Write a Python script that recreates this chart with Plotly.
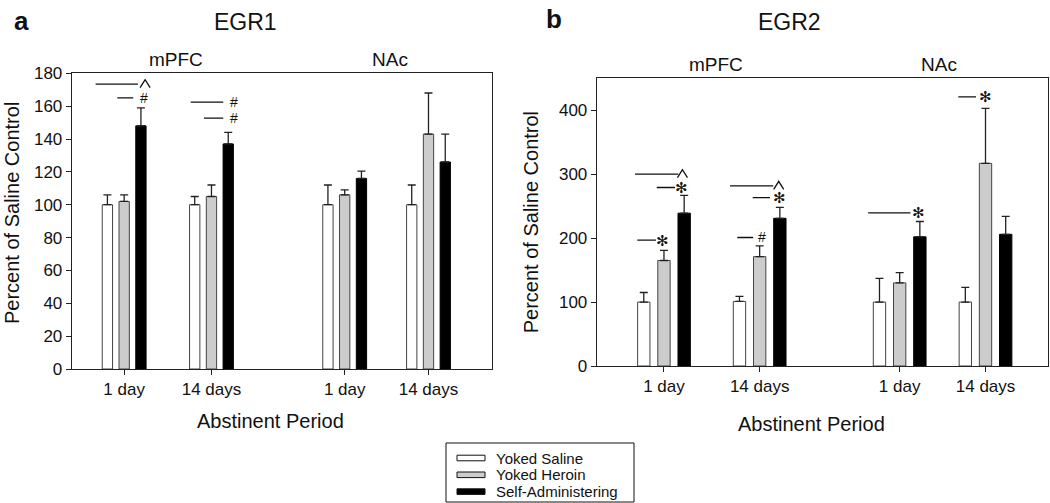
import plotly.graph_objects as go

# ---------------- data ----------------
groups = ["Yoked Saline", "Yoked Heroin", "Self-Administering"]
tick_labels = ["1 day", "14 days", "1 day", "14 days"]
regions = ["mPFC", "NAc"]

# EGR1 (panel a): order mPFC 1 day, mPFC 14 days, NAc 1 day, NAc 14 days
egr1_saline = [100, 100, 100, 100]
egr1_saline_err = [6, 5, 12, 12]
egr1_heroin = [102, 105, 106, 143]
egr1_heroin_err = [4, 7, 3, 25]
egr1_self = [148, 137, 116, 126]
egr1_self_err = [11, 7, 4.5, 17]

# EGR2 (panel b)
egr2_saline = [100, 101, 100, 100]
egr2_saline_err = [15, 8, 37, 23]
egr2_heroin = [165, 171, 130, 317]
egr2_heroin_err = [16, 17, 16, 86]
egr2_self = [239, 231, 202, 206]
egr2_self_err = [28, 17, 24, 28]

# significance: (group index, line start offset, line end offset, level, symbol, symbol offset)
sig_a = [
    (0, -0.327, 0.158, 173.4, "^", 0.240),
    (0, -0.079, 0.104, 165.0, "#", 0.224),
    (1, -0.238, 0.135, 162.4, "#", 0.258),
    (1, -0.086, 0.135, 152.7, "#", 0.258),
]
sig_b = [
    (0, -0.303, 0.149, 300.0, "^", 0.193),
    (0, -0.076, 0.115, 279.2, "*", 0.185),
    (0, -0.279, -0.084, 196.9, "*", -0.013),
    (1, -0.310, 0.142, 281.8, "^", 0.199),
    (1, -0.073, 0.108, 263.5, "*", 0.204),
    (1, -0.234, -0.068, 201.0, "#", 0.024),
    (2, -0.329, 0.113, 239.4, "*", 0.200),
    (3, -0.284, -0.099, 420.8, "*", 0.003),
]

# ---------------- layout config ----------------
W, H = 1050, 503
FONT = "Liberation Sans, Arial, Helvetica, sans-serif"
pos_a = [1, 2, 3.526, 4.486]
pos_b = [1, 2, 3.463, 4.36]
fills = ["#ffffff", "#cccccc", "#000000"]
outlines = ["#444444", "#444444", "#000000"]
INK = "#111111"


def px(x, y):
    return x / W, 1 - y / H


fig = go.Figure()


def add_panel(vals, errs, pos, off, bw, xa, ya):
    for k in range(3):
        fig.add_trace(go.Bar(
            x=[p + (k - 1) * off for p in pos],
            y=vals[k],
            width=bw,
            name=groups[k],
            showlegend=False,
            hoverinfo="skip",
            marker=dict(color=fills[k], line=dict(color=outlines[k], width=1)),
            error_y=dict(type="data", array=errs[k], arrayminus=[0] * len(pos),
                         symmetric=False, color="#222222", thickness=1.3, width=4),
            xaxis=xa, yaxis=ya,
        ))


add_panel([egr1_saline, egr1_heroin, egr1_self],
          [egr1_saline_err, egr1_heroin_err, egr1_self_err],
          pos_a, 0.192, 0.118, "x", "y")
add_panel([egr2_saline, egr2_heroin, egr2_self],
          [egr2_saline_err, egr2_heroin_err, egr2_self_err],
          pos_b, 0.211, 0.129, "x2", "y2")

axis_common = dict(showline=True, linecolor="#222222", linewidth=1, mirror=True,
                   ticks="outside", ticklen=5, tickwidth=1, tickcolor="#222222",
                   showgrid=False, zeroline=False, automargin=False,
                   tickfont=dict(family=FONT, size=17, color=INK))

shapes = []
annotations = []


def add_sig(sig, pos, xr, yr):
    for g, x0, x1, lvl, sym, toff in sig:
        shapes.append(dict(type="line", xref=xr, yref=yr, x0=pos[g] + x0, x1=pos[g] + x1,
                           y0=lvl, y1=lvl, line=dict(color=INK, width=1.3)))
        if sym == "^":
            # caret marker drawn as a small inverted V centred on the bar level
            shapes.append(dict(type="path", xref=xr, yref=yr, xsizemode="pixel",
                               ysizemode="pixel", xanchor=pos[g] + toff, yanchor=lvl,
                               path="M -5,-3.5 L 0,4.5 L 5,-3.5",
                               line=dict(color=INK, width=1.3)))
            continue
        txt, size = ("✻", 15) if sym == "*" else ("#", 14)
        annotations.append(dict(x=pos[g] + toff, y=lvl, xref=xr, yref=yr, text=txt,
                                showarrow=False, xanchor="center", yanchor="middle",
                                borderpad=0, font=dict(family=FONT, size=size, color=INK)))


add_sig(sig_a, pos_a, "x", "y")
add_sig(sig_b, pos_b, "x2", "y2")


def add_text(x, y, text, size, bold=False, angle=0, xanchor="center"):
    xx, yy = px(x, y)
    annotations.append(dict(x=xx, y=yy, xref="paper", yref="paper",
                            text=f"<b>{text}</b>" if bold else text,
                            showarrow=False, xanchor=xanchor, yanchor="middle", textangle=angle,
                            borderpad=0, font=dict(family=FONT, size=size, color=INK)))


add_text(21, 21, "a", 26, bold=True)
add_text(554, 19, "b", 26, bold=True)
add_text(245, 22, "EGR1", 23)
add_text(789, 22, "EGR2", 23)
add_text(176, 59, regions[0], 19)
add_text(389.5, 59, regions[1], 19)
add_text(715.6, 65, regions[0], 19)
add_text(939, 65, regions[1], 19)
add_text(270, 421, "Abstinent Period", 20)
add_text(811.6, 424, "Abstinent Period", 20)
add_text(12, 213, "Percent of Saline Control", 20, angle=-90)
add_text(530.6, 222.7, "Percent of Saline Control", 20, angle=-90)

# legend box
lx0, ly0 = px(446, 443)
lx1, ly1 = px(634, 502)
shapes.append(dict(type="rect", xref="paper", yref="paper", x0=lx0, x1=lx1, y0=ly1, y1=ly0,
                   line=dict(color=INK, width=1), fillcolor="rgba(0,0,0,0)"))
row_y = [458, 474.8, 491.6]
for k in range(3):
    sx0, sy0 = px(457, row_y[k] - 2.8)
    sx1, sy1 = px(485, row_y[k] + 2.8)
    shapes.append(dict(type="rect", xref="paper", yref="paper", x0=sx0, x1=sx1, y0=sy1, y1=sy0,
                       line=dict(color=INK, width=1), fillcolor=fills[k]))
    add_text(495, row_y[k], groups[k], 15, xanchor="left")

fig.update_layout(
    template="none",
    width=W, height=H, autosize=False,
    margin=dict(l=0, r=0, t=0, b=0, pad=0, autoexpand=False),
    paper_bgcolor="white", plot_bgcolor="white",
    barmode="overlay", showlegend=False, hovermode=False,
    font=dict(family=FONT, color=INK),
    xaxis=dict(domain=[71.7 / W, 491.7 / W], range=[0.399, 5.21], anchor="y",
               tickvals=pos_a, ticktext=tick_labels, **axis_common),
    yaxis=dict(domain=[(H - 369) / H, (H - 73.3) / H], range=[0, 180], anchor="x",
               tickvals=list(range(0, 181, 20)), **axis_common),
    xaxis2=dict(domain=[596.7 / W, 1048 / W], range=[0.297, 5.013], anchor="y2",
                tickvals=pos_b, ticktext=tick_labels, **axis_common),
    yaxis2=dict(domain=[(H - 366) / H, (H - 78.3) / H], range=[0, 450], anchor="x2",
                tickvals=[0, 100, 200, 300, 400], **axis_common),
    shapes=shapes,
    annotations=annotations,
)

fig.write_html("out.html", config={"displayModeBar": False},
               post_script="document.documentElement.style.margin='0px';"
                           "document.body.style.margin='0px';")
